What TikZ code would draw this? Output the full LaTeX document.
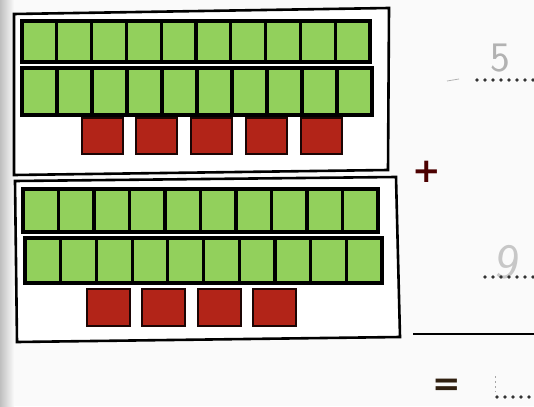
\documentclass[tikz,border=0pt]{standalone}
\usepackage{fontspec}
\newfontfamily\symfont{DejaVu Sans}
\begin{document}
\begin{tikzpicture}[x=1pt,y=-1pt,
  cellg/.style={fill=gcell,draw=black,line width=3.2pt},
  cellr/.style={fill=rcell,draw=black!85!rcell,line width=2.6pt},
  frame/.style={draw=black,line width=2.6pt,fill=white},
  dotline/.style={line width=3.8pt,dash pattern=on 0pt off 8pt,line cap=round,black!80},
  hand/.style={text=black!30,font=\sffamily\fontsize{42}{42}\selectfont,inner sep=0pt}]
\definecolor{gcell}{RGB}{146,208,92}
\definecolor{rcell}{RGB}{178,36,24}
\useasboundingbox (0,0) rectangle (534,406);
\fill[white!96!gray] (0,0) rectangle (534,406);
\shade[left color=black!25,right color=white!96!gray] (0,0) rectangle (14,406);
% top frame
\draw[frame] (14,14) -- (389,8) -- (388,170) -- (14,175) -- cycle;
% top rows
\foreach \i in {0,...,9}{
  \pgfmathsetmacro{\xa}{22+\i*34.8}
  \pgfmathsetmacro{\xb}{22+(\i+1)*34.8}
  \draw[cellg] (\xa,21) rectangle (\xb,62);
  \pgfmathsetmacro{\xc}{22+\i*35}
  \pgfmathsetmacro{\xd}{22+(\i+1)*35}
  \draw[cellg] (\xc,68) rectangle (\xd,115);
}
\foreach \xa in {82,136,191,246,301}{
  \draw[cellr] (\xa,118) rectangle ++(41,36);
}
% bottom frame
\draw[frame] (15,181) -- (396,177) -- (400,337) -- (17,342) -- cycle;
\foreach \i in {0,...,9}{
  \pgfmathsetmacro{\xa}{23+\i*35.5}
  \pgfmathsetmacro{\xb}{23+(\i+1)*35.5}
  \draw[cellg] (\xa,189) rectangle (\xb,232);
  \pgfmathsetmacro{\xc}{25+\i*35.7}
  \pgfmathsetmacro{\xd}{25+(\i+1)*35.7}
  \draw[cellg] (\xc,238) rectangle (\xd,283);
}
\foreach \xa in {87,142,198,253}{
  \draw[cellr] (\xa,289) rectangle ++(43,37);
}
% right side
\node[hand] (five) at (500,58) {5};
\draw[black!30,line width=0.8pt] (447,81) -- (459,79);
\coordinate (d1a) at (477,80);
\coordinate (d1b) at (534,80);
\draw[dotline] (d1a) -- (d1b);
\node[text=black!70!red,font=\symfont\bfseries\fontsize{34}{34}\selectfont,inner sep=0pt] (plus) at (427,172) {+};
\node[hand,text=black!22,font=\sffamily\fontsize{50}{50}\selectfont,rotate=-10] (nine) at (508,262) {9};
\coordinate (d2a) at (485,277);
\coordinate (d2b) at (534,277);
\draw[dotline] (d2a) -- (d2b);
\coordinate (la) at (413,334);
\coordinate (lb) at (534,334);
\draw[black,line width=2.6pt] (la) -- (lb);
\node[text=black!75!brown,font=\symfont\bfseries\fontsize{34}{34}\selectfont,inner sep=0pt] (eq) at (447,387) {=};
\coordinate (d3a) at (497,397);
\coordinate (d3b) at (534,397);
\draw[dotline] (d3a) -- (d3b);
\draw[black!35,line width=0.6pt,dash pattern=on 2pt off 3pt] (495,376) -- (495,392);
\end{tikzpicture}
\end{document}
